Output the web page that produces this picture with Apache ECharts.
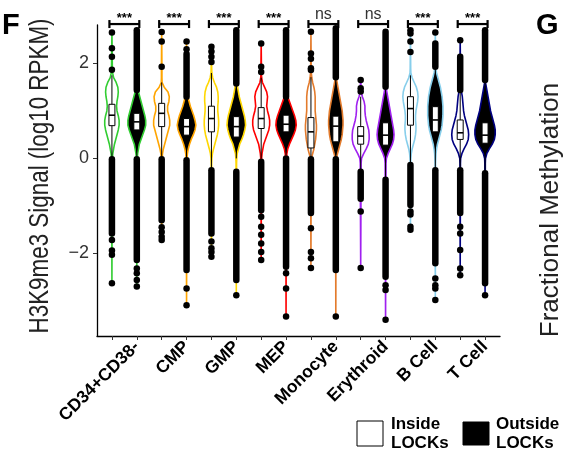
<!DOCTYPE html>
<html><head><meta charset="utf-8">
<script src="https://cdn.jsdelivr.net/npm/echarts@6/dist/echarts.min.js"></script>
<style>html,body{margin:0;padding:0;background:#fff}#c{width:571px;height:466px}</style>
</head><body><div id="c"></div>
<script>
// ---------------- data ----------------
const groups = ['CD34+CD38-', 'CMP', 'GMP', 'MEP', 'Monocyte', 'Erythroid', 'B Cell', 'T Cell'];
const significance = ['***', '***', '***', '***', 'ns', 'ns', '***', '***'];
const groupColors = ['#32CD32', '#FFA500', '#FFD700', '#FF0000', '#E37B2C', '#A020F0', '#87CEEB', '#000080'];
const yTicks = [-2, 0, 2];
const yTitle = 'H3K9me3 Signal (log10 RPKM)';

// density grid (log10 RPKM) and relative violin half-widths
const densityGrid = [-0.1, 0.0, 0.1, 0.2, 0.3, 0.4, 0.5, 0.6, 0.7, 0.8, 0.9, 1.0, 1.1, 1.2, 1.3, 1.4, 1.5, 1.6, 1.7, 1.8, 1.9];
const insideDensity = [
  [0, 0.5, 1, 2, 3, 4.5, 6, 7.5, 8.5, 8.5, 7.5, 6, 5.5, 6, 7, 7.5, 7, 5, 2, 0.8, 0.5],
  [0, 0.5, 1, 2, 3.5, 5, 6.5, 8, 9.5, 9.5, 8.5, 7, 7, 8.5, 9, 7.5, 3, 0.5, 0.3, 0.3, 0.3],
  [0.3, 0.5, 1.2, 2.5, 4, 5.5, 7, 8, 8.5, 8.5, 8, 7.5, 7.5, 8, 8, 7.5, 6, 3.5, 1.5, 0.5, 0.3],
  [0.3, 0.5, 1, 2, 3, 5, 7, 9, 10, 10, 9, 7.5, 6.5, 7, 7.5, 6.5, 4, 1.5, 0.5, 0.3, 0.3],
  [0.3, 0.5, 2, 3.5, 4.5, 5.5, 6, 6.5, 6.5, 6, 5.5, 5, 5, 5, 5, 4.5, 3.5, 2, 1, 0.5, 0.3],
  [0.5, 1, 3.5, 6.5, 9, 10, 10, 9.5, 8, 6.5, 5.5, 5, 5, 4, 2, 0.5, 0.3, 0.3, 0.3, 0.3, 0.3],
  [0.3, 0.5, 1, 2, 3.5, 5, 6, 6.5, 6.5, 6, 6, 6.5, 7.5, 8.5, 9, 8.5, 7, 4.5, 2, 0.5, 0.3],
  [0.3, 0.5, 2, 4.5, 7.5, 9.5, 10, 9.5, 8, 6.5, 5, 4, 3.5, 3, 2.5, 1.5, 0.5, 0.3, 0.3, 0.3, 0.3]
];
const outsideDensity = [
  [0.3, 0.5, 1, 2, 3, 5, 7, 9, 10.5, 10.5, 9.5, 8, 6.5, 5, 3.5, 2, 1, 0.5, 0.3, 0.3, 0.3],
  [0.3, 0.5, 1, 2, 3.5, 5.5, 8, 10, 11, 10, 8.5, 6.5, 4.5, 3, 1.5, 0.5, 0.3, 0.3, 0.3, 0.3, 0.3],
  [0.3, 0.5, 1, 2.5, 4, 6.5, 8.5, 10, 11, 10.5, 9.5, 8, 6.5, 5, 3.5, 2.5, 1.5, 0.5, 0.3, 0.3, 0.3],
  [0.3, 0.5, 1, 2, 4, 6.5, 9, 11, 12, 11.5, 10, 8, 6, 4, 2, 0.5, 0.3, 0.3, 0.3, 0.3, 0.3],
  [0.3, 0.5, 2, 3.5, 5, 6.5, 7.5, 8, 8.5, 8.5, 8, 7.5, 6.5, 5.5, 4.5, 3.5, 2.5, 1.5, 0.5, 0.3, 0.3],
  [0.5, 1, 3, 5.5, 8, 9.5, 10, 9.5, 8.5, 7.5, 6.5, 5.5, 4.5, 3.5, 2.5, 1.5, 0.5, 0.3, 0.3, 0.3, 0.3],
  [0.3, 0.5, 0.8, 1.5, 2.5, 4, 5.5, 7, 8, 8.5, 9, 9, 9, 8.5, 8, 7, 6, 4.5, 3, 1.5, 0.5],
  [0.3, 0.5, 2, 5, 8.5, 11, 12, 12, 11, 9.5, 8, 6.5, 5.5, 4.5, 3.5, 2.5, 1.5, 0.5, 0.3, 0.3, 0.3]
];
// data range (violin tails) [min, max]
const insideRange = [[-2.63, 2.65], [-1.72, 2.66], [-2.07, 2.35], [-2.14, 2.42], [-2.31, 2.67], [-2.31, 1.65], [-1.5, 2.7], [-2.46, 2.49]];
const outsideRange = [[-2.7, 2.7], [-3.09, 2.46], [-2.88, 2.7], [-3.33, 2.7], [-3.33, 2.74], [-3.4, 2.67], [-2.98, 2.65], [-2.88, 2.7]];
// boxplot stats [lowerWhisker, Q1, median, Q3, upperWhisker]
const insideBox = [
  [0.0, 0.69, 0.91, 1.14, 1.75], [0.0, 0.67, 0.95, 1.16, 1.6], [-0.2, 0.56, 0.84, 1.10, 1.8], [0.0, 0.63, 0.84, 1.07, 1.7],
  [0.0, 0.22, 0.56, 0.86, 1.71], [-0.25, 0.30, 0.47, 0.67, 1.3], [-0.1, 0.70, 1.05, 1.30, 1.75], [-0.25, 0.40, 0.54, 0.81, 1.44]
];
const outsideBox = [
  [0.05, 0.60, 0.77, 0.95, 1.44], [0.0, 0.49, 0.67, 0.84, 1.3], [0.0, 0.45, 0.67, 0.88, 1.58], [0.07, 0.56, 0.72, 0.91, 1.3],
  [0.0, 0.35, 0.68, 0.89, 1.71], [-0.45, 0.28, 0.49, 0.75, 1.5], [-0.25, 0.56, 0.81, 1.09, 1.9], [-0.31, 0.32, 0.49, 0.75, 1.65]
];
// outliers: runs of overlapping points [from, to] and isolated points
const insideOutlierRuns = [
  [[-1.58, -0.02]], [[-1.3, -0.02]], [[-1.58, -0.25]], [[-1.09, -0.07]],
  [[-1.15, -0.02]], [[-0.85, -0.28]], [[-0.98, -0.14]], [[1.44, 2.14], [-1.15, -0.25]]
];
const outsideOutlierRuns = [
  [[1.44, 2.7], [-2.14, -0.02]], [[1.3, 2.2], [-2.35, -0.04]], [[1.58, 2.7], [-2.56, -0.28]], [[1.3, 2.7], [-2.28, 0.0]],
  [[1.71, 2.74], [-2.35, -0.02]], [[1.51, 2.67], [-2.49, -0.45]], [[1.93, 2.42], [-2.21, -0.25]], [[1.65, 2.7], [-2.63, -0.31]]
];
const insideOutlierPoints = [
  [1.87, 2.14, 2.32, 2.65, -1.72, -1.94, -2.03, -2.63],
  [1.93, 2.46, 2.66, -1.45, -1.55, -1.65, -1.72],
  [2.03, 2.14, 2.25, 2.35, -1.75, -1.89, -1.97, -2.07],
  [1.82, 1.93, 2.42, -1.23, -1.44, -1.61, -1.79, -1.97, -2.14],
  [1.86, 1.9, 2.1, 2.21, 2.67, -1.47, -1.97, -2.1, -2.31],
  [1.41, 1.48, 1.65, -1.12, -2.31],
  [2.24, 2.46, 2.63, 2.7, -1.12, -1.18, -1.44, -1.5],
  [2.49, -1.44, -1.58, -1.93, -2.32, -2.46]
];
const outsideOutlierPoints = [
  [-2.32, -2.42, -2.56, -2.7],
  [2.3, 2.46, -2.74, -3.09],
  [-2.88],
  [-2.42, -2.74, -3.33],
  [-3.33],
  [-2.67, -2.77, -3.4],
  [2.65, -2.53, -2.67, -2.74, -2.98],
  [-2.88]
];

// ---------------- drawing ----------------
const FONT = 'Liberation Sans, Arial, sans-serif';
const densityScale = 0.85 / 25;   // relative width -> slot units
const boxHalf = 0.12;
const bracketY = 2.83;

const insidePos = groups.map((_, g) => 2 * g + 1);
const outsidePos = groups.map((_, g) => 2 * g + 2);

function violinRenderer(density, range, fill) {
  return function (params, api) {
    const x = api.value(0), g = api.value(1);
    const d = density[g], lo = range[g][0], hi = range[g][1];
    const unit = api.size([1, 0])[0];
    const prof = [[lo, 0]];
    densityGrid.forEach((v, i) => { if (v > lo && v < hi) prof.push([v, Math.max(d[i], 0.3)]); });
    prof.push([hi, 0]);
    const c = api.coord([x, 0])[0];
    const right = prof.map(p => [c + p[1] * densityScale * unit, api.coord([x, p[0]])[1]]);
    const left = prof.slice().reverse().map(p => [c - p[1] * densityScale * unit, api.coord([x, p[0]])[1]]);
    return {
      type: 'polygon',
      shape: { points: right.concat(left) },
      style: { fill: fill, stroke: groupColors[g], lineWidth: 1.6, lineJoin: 'round' }
    };
  };
}

function boxRenderer(stats) {
  return function (params, api) {
    const x = api.value(0), g = api.value(1);
    const s = stats[g];
    const p = v => api.coord([x, v]);
    const l = api.coord([x - boxHalf, s[3]]), r = api.coord([x + boxHalf, s[1]]);
    const ml = api.coord([x - boxHalf, s[2]]), mr = api.coord([x + boxHalf, s[2]]);
    const ls = { stroke: '#000', lineWidth: 1 };
    return {
      type: 'group',
      children: [
        { type: 'line', shape: { x1: p(s[0])[0], y1: p(s[0])[1], x2: p(s[1])[0], y2: p(s[1])[1] }, style: ls },
        { type: 'line', shape: { x1: p(s[3])[0], y1: p(s[3])[1], x2: p(s[4])[0], y2: p(s[4])[1] }, style: ls },
        { type: 'rect', shape: { x: l[0], y: l[1], width: r[0] - l[0], height: r[1] - l[1] }, style: { fill: '#fff', stroke: '#000', lineWidth: 1 } },
        { type: 'line', shape: { x1: ml[0], y1: ml[1], x2: mr[0], y2: mr[1] }, style: { stroke: '#000', lineWidth: 1.6 } }
      ]
    };
  };
}

const runData = [];
groups.forEach((_, g) => {
  insideOutlierRuns[g].forEach(r => runData.push([insidePos[g], r[0], r[1]]));
  outsideOutlierRuns[g].forEach(r => runData.push([outsidePos[g], r[0], r[1]]));
});
const pointData = [];
groups.forEach((_, g) => {
  insideOutlierPoints[g].forEach(v => pointData.push([insidePos[g], v]));
  outsideOutlierPoints[g].forEach(v => pointData.push([outsidePos[g], v]));
});

const chart = echarts.init(document.getElementById('c'), null, { renderer: 'canvas' });
chart.setOption({
  animation: false,
  backgroundColor: '#fff',
  grid: { left: 97, right: 71, top: 25, bottom: 130 },
  xAxis: {
    type: 'value', min: 0.4, max: 16.6,
    axisLine: { show: true, onZero: false, lineStyle: { color: '#000', width: 1.3 } },
    axisTick: { show: true, length: 4, customValues: insidePos.concat(outsidePos), lineStyle: { color: '#333', width: 1 } },
    axisLabel: {
      customValues: outsidePos, rotate: 45, margin: 8, interval: 0,
      formatter: v => groups[Math.round(v / 2) - 1],
      fontFamily: FONT, fontWeight: 'bold', fontSize: 17.5, color: '#000'
    },
    splitLine: { show: false }
  },
  yAxis: {
    type: 'value', min: -3.74, max: 2.81,
    axisLine: { show: true, onZero: false, lineStyle: { color: '#000', width: 1.3 } },
    axisTick: { show: true, length: 4, customValues: yTicks, lineStyle: { color: '#333', width: 1 } },
    axisLabel: {
      customValues: yTicks, margin: 8,
      formatter: v => (v < 0 ? '\u2212' + Math.abs(v) : String(v)),
      fontFamily: FONT, fontSize: 18, color: '#333'
    },
    splitLine: { show: false }
  },
  series: [
    { type: 'custom', name: 'Inside LOCKs', clip: false, data: groups.map((_, g) => [insidePos[g], g]),
      renderItem: violinRenderer(insideDensity, insideRange, '#fff'), z: 2 },
    { type: 'custom', name: 'Outside LOCKs', clip: false, data: groups.map((_, g) => [outsidePos[g], g]),
      renderItem: violinRenderer(outsideDensity, outsideRange, '#000'), z: 2 },
    { type: 'custom', clip: false, data: groups.map((_, g) => [insidePos[g], g]), renderItem: boxRenderer(insideBox), z: 3 },
    { type: 'custom', clip: false, data: groups.map((_, g) => [outsidePos[g], g]), renderItem: boxRenderer(outsideBox), z: 3 },
    { type: 'custom', clip: false, data: runData, z: 4,
      renderItem: (params, api) => {
        const a = api.coord([api.value(0), api.value(1)]), b = api.coord([api.value(0), api.value(2)]);
        return { type: 'line', shape: { x1: a[0], y1: a[1], x2: b[0], y2: b[1] }, style: { stroke: '#000', lineWidth: 6.5, lineCap: 'round' } };
      } },
    { type: 'scatter', data: pointData, symbol: 'circle', symbolSize: 6.5, itemStyle: { color: '#000', opacity: 1 }, z: 4, silent: true },
    { type: 'custom', clip: false, data: groups.map((_, g) => [insidePos[g], outsidePos[g], g]), z: 5,
      renderItem: (params, api) => {
        const g = api.value(2);
        const a = api.coord([api.value(0), bracketY]), b = api.coord([api.value(1), bracketY]);
        const x1 = a[0] - 2.5, x2 = b[0] + 2.5, y = a[1];
        const st = { stroke: '#000', lineWidth: 2.2 };
        const ns = significance[g] === 'ns';
        return { type: 'group', children: [
          { type: 'line', shape: { x1: x1, y1: y, x2: x2, y2: y }, style: st },
          { type: 'line', shape: { x1: x1, y1: y - 4, x2: x1, y2: y + 4 }, style: st },
          { type: 'line', shape: { x1: x2, y1: y - 4, x2: x2, y2: y + 4 }, style: st },
          { type: 'text', x: (x1 + x2) / 2, y: ns ? y - 9 : y - 6,
            style: { text: significance[g], fill: ns ? '#333' : '#000', font: (ns ? 'normal 16px ' : 'bold 13px ') + FONT, align: 'center', verticalAlign: 'middle' } }
        ] };
      } }
  ],
  graphic: [
    { type: 'text', x: 40, y: 176, rotation: Math.PI / 2, scaleX: 0.8,
      style: { text: yTitle, font: 'normal 28px ' + FONT, fill: '#222', align: 'center', verticalAlign: 'middle' } },
    { type: 'text', left: 2, top: 11, style: { text: 'F', font: 'bold 29px ' + FONT, fill: '#000' } },
    { type: 'text', left: 536, top: 11, style: { text: 'G', font: 'bold 29px ' + FONT, fill: '#000' } },
    { type: 'text', x: 551, y: 210, rotation: Math.PI / 2,
      style: { text: 'Fractional Methylation', font: 'normal 26px ' + FONT, fill: '#222', align: 'center', verticalAlign: 'middle' } },
    { type: 'rect', shape: { x: 357, y: 421, width: 26, height: 25 }, style: { fill: '#fff', stroke: '#000', lineWidth: 1 } },
    { type: 'text', x: 391, y: 434, style: { text: 'Inside\nLOCKs', font: 'bold 17px ' + FONT, fill: '#000', lineHeight: 19, verticalAlign: 'middle' } },
    { type: 'rect', shape: { x: 463, y: 422, width: 26, height: 23 }, style: { fill: '#000', stroke: '#000', lineWidth: 1 } },
    { type: 'text', x: 496, y: 434, style: { text: 'Outside\nLOCKs', font: 'bold 17px ' + FONT, fill: '#000', lineHeight: 19, verticalAlign: 'middle' } }
  ]
});
</script></body></html>
